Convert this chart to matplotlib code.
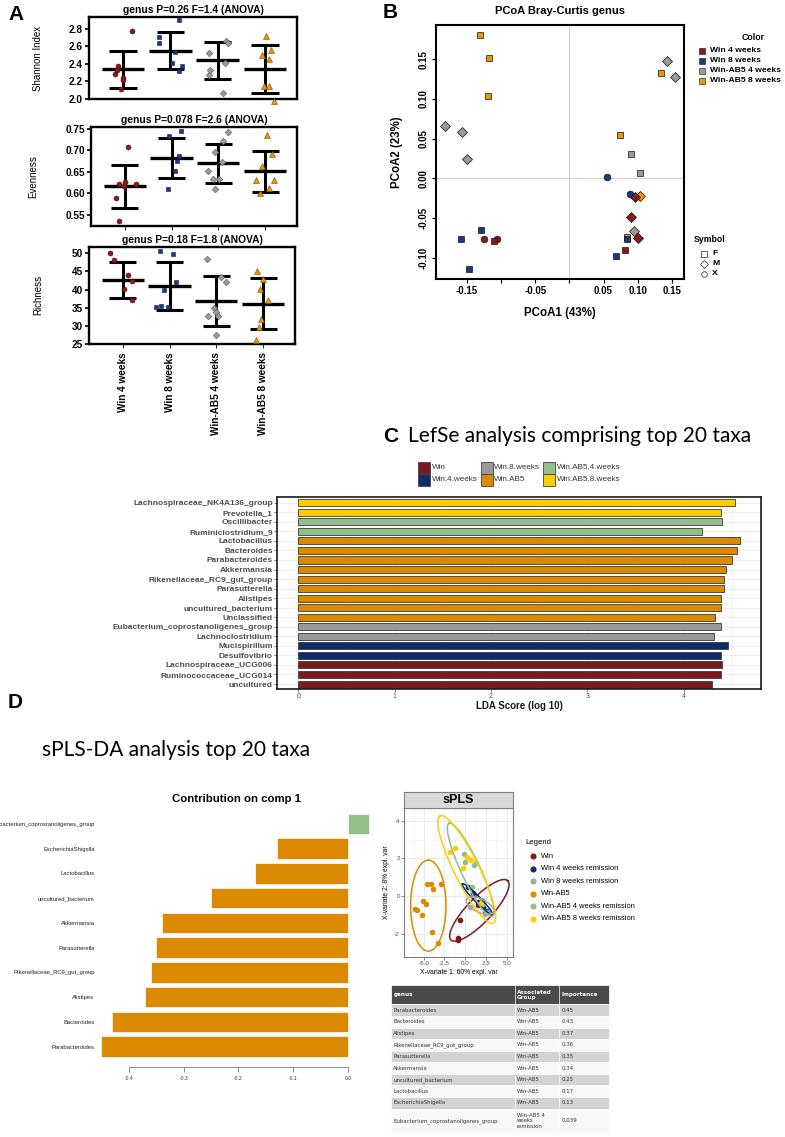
import numpy as np
import matplotlib
matplotlib.use('Agg')
import matplotlib.pyplot as plt
from matplotlib.patches import Rectangle
from matplotlib.lines import Line2D

plt.rcParams['font.family'] = ['Liberation Sans', 'DejaVu Sans']

# ------------------------------------------------------------------ DATA
# Panel A (alpha diversity)
A_groups = ['Win 4 weeks', 'Win 8 weeks', 'Win-AB5 4 weeks', 'Win-AB5 8 weeks']
A_colors = ['#8B1A1A', '#1B3A7E', '#9A9A9A', '#E8960A']
A_edges = ['#4a0d0d', '#0b1d45', '#5a5a5a', '#7a4d00']
A_markers = ['o', 's', 'D', '^']

shannon_vals = [[2.78, 2.37, 2.33, 2.28, 2.24, 2.21, 2.11],
                [2.90, 2.71, 2.64, 2.54, 2.41, 2.37, 2.32],
                [2.66, 2.64, 2.53, 2.41, 2.33, 2.27, 2.07],
                [2.72, 2.56, 2.50, 2.45, 2.15, 2.15, 1.97]]
shannon_jit = [[0.19, -0.11, -0.13, -0.18, 0.0, 0.0, -0.04],
               [0.19, -0.23, -0.24, 0.09, 0.03, 0.24, 0.18],
               [0.18, 0.22, -0.19, 0.15, -0.15, -0.19, 0.11],
               [0.02, 0.14, -0.07, 0.09, -0.02, 0.09, 0.20]]
shannon_mean = [2.34, 2.55, 2.44, 2.34]
shannon_lo = [2.12, 2.34, 2.23, 2.07]
shannon_hi = [2.55, 2.77, 2.65, 2.62]

even_vals = [[0.709, 0.622, 0.626, 0.616, 0.621, 0.588, 0.535],
             [0.733, 0.745, 0.686, 0.676, 0.651, 0.609],
             [0.743, 0.722, 0.697, 0.672, 0.652, 0.634, 0.634, 0.609],
             [0.735, 0.692, 0.663, 0.630, 0.631, 0.601, 0.612]]
even_jit = [[0.07, -0.12, 0.0, -0.02, 0.25, -0.18, -0.13],
            [-0.05, 0.2, 0.16, 0.12, 0.07, -0.07],
            [0.2, 0.11, -0.08, 0.07, -0.23, -0.12, 0.02, -0.08],
            [0.04, 0.14, -0.07, -0.19, 0.18, -0.11, 0.09]]
even_mean = [0.616, 0.682, 0.670, 0.652]
even_lo = [0.565, 0.636, 0.623, 0.603]
even_hi = [0.667, 0.729, 0.716, 0.698]

rich_vals = [[50.0, 48.2, 44.0, 42.4, 40.2, 37.0],
             [50.7, 49.8, 42.1, 40.0, 35.1, 35.6, 35.1],
             [48.3, 43.5, 42.1, 35.0, 33.9, 32.6, 32.6, 27.5],
             [45.2, 42.9, 40.1, 37.2, 31.8, 29.8, 26.1]]
rich_jit = [[-0.27, -0.18, 0.11, 0.2, 0.03, 0.2],
            [-0.2, 0.07, 0.14, -0.11, -0.28, -0.18, -0.04],
            [-0.21, 0.11, 0.2, -0.05, 0.0, -0.18, 0.04, -0.01],
            [-0.14, -0.01, -0.07, 0.11, -0.04, -0.08, -0.16]]
rich_mean = [42.7, 41.1, 36.8, 36.0]
rich_lo = [37.6, 34.4, 29.9, 29.1]
rich_hi = [47.7, 47.7, 43.7, 43.2]

A_titles = ['genus P=0.26 F=1.4 (ANOVA)', 'genus P=0.078 F=2.6 (ANOVA)',
            'genus P=0.18 F=1.8 (ANOVA)']
A_ylabels = ['Shannon Index', 'Evenness', 'Richness']

# Panel B (PCoA)
pc_groups = ['Win 4 weeks', 'Win 8 weeks', 'Win-AB5 4 weeks', 'Win-AB5 8 weeks']
pc_colors = ['#8B1A1A', '#1B3A7E', '#9A9A9A', '#E8960A']
pc_sex = ['F', 'M', 'X']
pc_sex_marker = {'F': 's', 'M': 'D', 'X': 'o'}
pc_group_idx = [0]*7 + [1]*7 + [2]*8 + [3]*7
pc_shape = ['X', 'X', 'F', 'F', 'M', 'M', 'M',
            'F', 'F', 'F', 'F', 'F', 'X', 'X',
            'M', 'M', 'M', 'M', 'M', 'M', 'F', 'F',
            'F', 'F', 'F', 'F', 'F', 'M', 'F']
pc_x = [-0.125, -0.106, -0.111, 0.081, 0.096, 0.090, 0.101,
        -0.129, -0.159, -0.147, 0.084, 0.069, 0.055, 0.089,
        -0.183, -0.158, -0.150, 0.143, 0.155, 0.095, 0.090, 0.104,
        -0.131, -0.118, -0.119, 0.074, 0.134, 0.103, 0.084]
pc_y = [-0.076, -0.077, -0.079, -0.090, -0.024, -0.049, -0.075,
        -0.065, -0.076, -0.115, -0.077, -0.098, 0.002, -0.020,
        0.066, 0.058, 0.024, 0.148, 0.128, -0.067, 0.030, 0.006,
        0.181, 0.151, 0.103, 0.055, 0.133, -0.023, -0.074]

# Panel C (LEfSe)
lefse_taxa = ['Lachnospiraceae_NK4A136_group', 'Prevotella_1', 'Oscillibacter',
              'Ruminiclostridium_9', 'Lactobacillus', 'Bacteroides', 'Parabacteroides',
              'Akkermansia', 'Rikenellaceae_RC9_gut_group', 'Parasutterella', 'Alistipes',
              'uncultured_bacterium', 'Unclassified', 'Eubacterium_coprostanoligenes_group',
              'Lachnoclostridium', 'Mucispirillum', 'Desulfovibrio',
              'Lachnospiraceae_UCG006', 'Ruminococcaceae_UCG014', 'uncultured']
lefse_lda = [4.53, 4.39, 4.40, 4.19, 4.58, 4.55, 4.50, 4.44, 4.42, 4.42,
             4.38, 4.38, 4.32, 4.38, 4.31, 4.46, 4.38, 4.40, 4.38, 4.29]
lefse_class = ['Win.AB5.8.weeks']*2 + ['Win.AB5.4.weeks']*2 + ['Win.AB5']*9 + \
              ['Win.8.weeks']*2 + ['Win.4.weeks']*2 + ['Win']*3
lefse_classes = ['Win', 'Win.4.weeks', 'Win.8.weeks', 'Win.AB5',
                 'Win.AB5.4.weeks', 'Win.AB5.8.weeks']
lefse_colors = ['#7B1A1E', '#0D2C6C', '#999999', '#DB8A00', '#93BE8A', '#FFCC00']

# Panel D (sPLS-DA contribution)
contrib_taxa = ['Parabacteroides', 'Bacteroides', 'Alistipes', 'Rikenellaceae_RC9_gut_group',
                'Parasutterella', 'Akkermansia', 'uncultured_bacterium', 'Lactobacillus',
                'EscherichiaShigella', 'Eubacterium_coprostanoligenes_group']
contrib_vals = [-0.45, -0.43, -0.37, -0.36, -0.35, -0.34, -0.25, -0.17, -0.13, 0.039]
contrib_group = ['Win-AB5']*9 + ['Win-AB5 4 weeks remission']

# sPLS score plot
spls_groups = ['Win', 'Win 4 weeks remission', 'Win 8 weeks remission', 'Win-AB5',
               'Win-AB5 4 weeks remission', 'Win-AB5 8 weeks remission']
spls_colors = ['#7E1A1A', '#0D2C6C', '#A6A6A6', '#DC8A00', '#93BE8A', '#FFCC00']
spls_x = [[-0.62, -0.92, -0.85, 1.6, 2.4],
          [0.3, 1.0, 1.6, 2.1, 2.6],
          [0.55, 2.0, 2.4, 2.8],
          [-4.56, -4.16, -3.84, -2.95, -5.08, -4.72, -6.04, -5.76, -5.2, -4.04, -3.31],
          [-0.2, -0.02, 1.1, 0.86, 1.25, 2.2],
          [-1.79, -1.22, 0.22, 0.70, -0.30, 1.9]]
spls_y = [[-1.28, -2.24, -2.33, -0.45, -0.9],
          [0.5, 0.15, -0.3, -0.55, -0.8],
          [-0.55, -0.2, -0.95, -0.85],
          [0.65, 0.63, 0.36, 0.63, -0.25, -0.43, -0.68, -0.75, -1.01, -1.91, -2.49],
          [2.22, 1.79, 1.63, 0.49, 1.75, -0.4],
          [2.34, 2.54, 2.08, 1.90, 1.49, -0.35]]
# confidence ellipses: centre and two conjugate half-axis vectors (data units)
ell_center = [(1.71, -0.75), (1.47, -0.16), (1.79, -0.5), (-4.44, -0.5), (0.66, 1.39), (0.18, 1.41)]
ell_P = [(3.41, 1.57), (-1.81, 0.81), (-1.61, 0.335), (0.0, 2.41), (-2.61, 2.47), (-3.21, 2.84)]
ell_Q = [(1.08, -0.45), (0.26, 0.11), (0.345, 0.319), (2.13, 0.0), (1.05, 0.215), (1.35, 0.29)]

# ------------------------------------------------------------------ FIGURE
W, H = 785, 1137
fig = plt.figure(figsize=(W/100, H/100), dpi=100)


def add_ax(l, t, r, b, **kw):
    return fig.add_axes([l/W, 1 - b/H, (r-l)/W, (b-t)/H], **kw)


# ---------------- Panel A
A_boxes = [(89, 17.3, 297, 98.7), (91, 126.7, 297, 225.7), (89, 246.7, 295, 344)]
A_data = [(shannon_vals, shannon_jit, shannon_mean, shannon_lo, shannon_hi),
          (even_vals, even_jit, even_mean, even_lo, even_hi),
          (rich_vals, rich_jit, rich_mean, rich_lo, rich_hi)]
A_ylims = [(2.0, 2.934), (0.5243, 0.7554), (25, 51.8)]
A_yticks = [[2.0, 2.2, 2.4, 2.6, 2.8], [0.55, 0.60, 0.65, 0.70, 0.75],
            [25, 30, 35, 40, 45, 50]]
A_fmt = ['{:.1f}', '{:.2f}', '{:d}']
A_ylab_x = [43, 38, 43]

for k in range(3):
    ax = add_ax(*A_boxes[k])
    vals, jit, mean, lo, hi = A_data[k]
    for g in range(4):
        xs = np.array(jit[g]) + g + 1
        ax.vlines(g + 1, lo[g], hi[g], color='black', lw=2.2, zorder=3)
        ax.hlines(mean[g], g + 1 - 0.45, g + 1 + 0.45, color='black', lw=2.4, zorder=3)
        ax.hlines([lo[g], hi[g]], g + 1 - 0.29, g + 1 + 0.29, color='black', lw=2.2, zorder=3)
        ms = {'o': 3.6, 's': 3.3, 'D': 3.4, '^': 4.0}[A_markers[g]]
        ax.plot(xs, vals[g], ls='none', marker=A_markers[g], ms=ms, mfc=A_colors[g],
                mec=A_edges[g], mew=0.4, zorder=4, clip_on=False)
    ax.set_xlim(0.28, 4.68)
    ax.set_ylim(*A_ylims[k])
    ax.set_yticks(A_yticks[k])
    ax.set_yticklabels([A_fmt[k].format(v) for v in A_yticks[k]], fontsize=7.2,
                       fontweight='bold')
    ax.tick_params(axis='y', length=3, width=1.2, pad=1.5)
    for s in ax.spines.values():
        s.set_linewidth(1.7)
    if k == 0:
        ax.set_xticks([])
    else:
        ax.set_xticks([1, 2, 3, 4])
        ax.tick_params(axis='x', length=3, width=0.8, color='#333333')
        if k == 2:
            ax.set_xticklabels(A_groups, rotation=90, fontsize=7.2, fontweight='bold')
            ax.tick_params(axis='x', pad=3)
        else:
            ax.set_xticklabels([])
    ax.set_ylabel(A_ylabels[k], fontsize=7)
    bx = A_boxes[k]
    ax.yaxis.set_label_coords((A_ylab_x[k] - bx[0]) / (bx[2] - bx[0]), 0.5)
    ax.set_title(A_titles[k], fontsize=7.4, fontweight='bold', pad=3)

# ---------------- Panel B
axB = add_ax(435.7, 25, 684, 279)
for g in [3, 2, 1, 0]:
    for i in range(len(pc_x)):
        if pc_group_idx[i] != g:
            continue
        m = pc_sex_marker[pc_shape[i]]
        ms = {'s': 4.4, 'D': 4.8, 'o': 4.8}[m]
        axB.plot(pc_x[i], pc_y[i], ls='none', marker=m, ms=ms, mfc=pc_colors[g],
                 mec='#111111', mew=0.5, zorder=3)
axB.axhline(0, color='#cfcfcf', lw=0.7, zorder=1)
axB.axvline(0, color='#cfcfcf', lw=0.7, zorder=1)
axB.set_xlim(-0.196, 0.168)
axB.set_ylim(-0.127, 0.193)
xt = [-0.15, -0.10, -0.05, 0.0, 0.05, 0.10, 0.15]
axB.set_xticks(xt)
axB.set_xticklabels(['-0.15', '', '-0.05', '', '0.05', '0.10', '0.15'],
                    fontsize=7, fontweight='bold')
yt = [-0.10, -0.05, 0.0, 0.05, 0.10, 0.15]
axB.set_yticks(yt)
axB.set_yticklabels(['{:.2f}'.format(v) for v in yt], fontsize=7, fontweight='bold',
                    rotation=90, va='center')
axB.tick_params(length=3, width=0.8, pad=2)
for s in axB.spines.values():
    s.set_linewidth(1.5)

# ---------------- Panel C
axC = add_ax(277, 497, 761, 689)
n = len(lefse_taxa)
ypos = np.arange(n)[::-1]
ccol = [lefse_colors[lefse_classes.index(c)] for c in lefse_class]
axC.set_xlim(-0.22, 4.80)
axC.set_ylim(-0.52, n - 1 + 0.6)
for xv in np.arange(0, 4.51, 0.5):
    axC.axvline(xv, color='#ebebeb', lw=0.6 if xv % 1 == 0 else 0.4, zorder=0)
for yv in ypos:
    axC.axhline(yv, color='#ebebeb', lw=0.6, zorder=0)
axC.barh(ypos, lefse_lda, height=0.74, color=ccol, edgecolor='#3a3a3a', lw=0.6, zorder=2)
axC.set_yticks(ypos)
axC.set_yticklabels(lefse_taxa, fontsize=6.0, fontweight='bold', color='#4d4d4d')
axC.set_xticks([0, 1, 2, 3, 4])
axC.set_xticklabels(['0', '1', '2', '3', '4'], fontsize=5, color='#4d4d4d')
axC.tick_params(length=2, width=0.5, color='#4d4d4d', pad=1)
for s in axC.spines.values():
    s.set_linewidth(1.2)
    s.set_color('#1a1a1a')

# ---------------- Panel D : contribution
axD = add_ax(98.7, 809, 372.7, 1061.5)
for s in ['top', 'right', 'left']:
    axD.spines[s].set_visible(False)
axD.spines['bottom'].set_position(('outward', 4))
axD.spines['bottom'].set_bounds(-0.4, 0.0)
axD.spines['bottom'].set_color('#777777')
axD.spines['bottom'].set_linewidth(0.6)
m = len(contrib_taxa)
dcol = ['#DB8A00' if v < 0 else '#93BE8A' for v in contrib_vals]
axD.barh(np.arange(m), contrib_vals, height=0.82, color=dcol, edgecolor='white', lw=0.5)
axD.set_xlim(-0.455, 0.045)
axD.set_ylim(-0.6, m - 1 + 0.6)
axD.set_yticks(np.arange(m))
axD.set_yticklabels(contrib_taxa, fontsize=4.2, color='#222222')
axD.tick_params(axis='y', length=0, pad=3)
axD.set_xticks([-0.4, -0.3, -0.2, -0.1, 0.0])
axD.set_xticklabels(['-0.4', '-0.3', '-0.2', '-0.1', '0.0'], fontsize=3.6, color='#333333')
axD.tick_params(axis='x', length=3.5, width=0.6, color='#777777', pad=3, labelsize=3.6)

# ---------------- sPLS score plot
axS = add_ax(404, 808, 513, 957)
for g in range(len(spls_groups)):
    axS.plot(spls_x[g], spls_y[g], ls='none', marker='o', ms=3.0, mfc=spls_colors[g],
             mec=spls_colors[g], zorder=3)
t = np.linspace(0, 2*np.pi, 200)
for g in range(len(spls_groups)):
    cx, cy = ell_center[g]
    px, py = ell_P[g]
    qx, qy = ell_Q[g]
    axS.plot(cx + px*np.cos(t) + qx*np.sin(t), cy + py*np.cos(t) + qy*np.sin(t),
             color=spls_colors[g], lw=1.1, zorder=4)
axS.set_xlim(-7.37, 5.76)
axS.set_ylim(-3.22, 4.67)
axS.set_xticks([-5, -2.5, 0, 2.5, 5])
axS.set_xticklabels(['-5.0', '-2.5', '0.0', '2.5', '5.0'], fontsize=4.5, color='#4d4d4d')
axS.set_yticks([-2, 0, 2, 4])
axS.set_yticklabels(['-2', '0', '2', '4'], fontsize=4.5, color='#4d4d4d')
axS.set_xticks([-6.25, -3.75, -1.25, 1.25, 3.75], minor=True)
axS.set_yticks([-3, -1, 1, 3], minor=True)
axS.grid(True, which='major', color='#e6e6e6', lw=0.6)
axS.grid(True, which='minor', color='#f2f2f2', lw=0.4)
axS.set_axisbelow(True)
axS.tick_params(which='major', length=2, width=0.5, color='#4d4d4d', pad=1)
axS.tick_params(which='minor', length=0)
for s in axS.spines.values():
    s.set_color('#7f7f7f')
    s.set_linewidth(0.8)

axStrip = add_ax(404, 792, 513, 808)
axStrip.set_facecolor('#d9d9d9')
axStrip.set_xticks([])
axStrip.set_yticks([])
for s in axStrip.spines.values():
    s.set_color('#7f7f7f')
    s.set_linewidth(0.8)
axStrip.text(0.5, 0.5, 'sPLS', transform=axStrip.transAxes, ha='center', va='center',
             fontsize=9, fontweight='bold')

# ---------------- overlay for figure-level text, legends, table
ov = add_ax(0, 0, W, H)
ov.set_xlim(0, W)
ov.set_ylim(H, 0)
ov.axis('off')
ov.patch.set_alpha(0)

# panel letters
ov.text(8, 15, 'A', fontsize=15, fontweight='bold', va='center', ha='left')
ov.text(383, 13, 'B', fontsize=15, fontweight='bold', va='center', ha='left')
ov.text(383, 436, 'C', fontsize=15, fontweight='bold', va='center', ha='left')
ov.text(8, 702, 'D', fontsize=15, fontweight='bold', va='center', ha='left')
ov.text(408, 436, 'LefSe analysis comprising top 20 taxa', fontsize=15,
        family=['Lato', 'DejaVu Sans'], va='center', ha='left')
ov.text(42, 750, 'sPLS-DA analysis top 20 taxa', fontsize=15,
        family=['Lato', 'DejaVu Sans'], va='center', ha='left')

# panel B labels and legend
ov.text(560, 11, 'PCoA Bray-Curtis genus', fontsize=8, fontweight='bold', ha='center', va='center')
ov.text(560, 313, 'PCoA1 (43%)', fontsize=8.3, fontweight='bold', ha='center', va='center')
ov.text(397, 152, 'PCoA2 (23%)', fontsize=8.3, fontweight='bold', ha='center', va='center',
        rotation=90)
ov.text(753, 37, 'Color', fontsize=6.3, fontweight='bold', ha='center', va='center')
for i, (lab, col) in enumerate(zip(pc_groups, pc_colors)):
    yy = 50.7 + i * 10
    ov.add_patch(Rectangle((698.5, yy - 3.2), 6.4, 6.4, fc=col, ec='#111111', lw=0.4))
    ov.text(710, yy, lab, fontsize=6.1, fontweight='bold', va='center', ha='left')
ov.text(710, 240, 'Symbol', fontsize=6.3, fontweight='bold', ha='center', va='center')
for i, s in enumerate(pc_sex):
    yy = 253.7 + i * 10
    ov.plot(704, yy, marker=pc_sex_marker[s], ms=4, mfc='white', mec='#222222', mew=0.5)
    ov.text(712, yy, s, fontsize=6.1, fontweight='bold', va='center', ha='left')

# panel C legend + x label
leg_pos = [(418.3, 432), (481, 494.3), (543.3, 556.7)]
for i, (lab, col) in enumerate(zip(lefse_classes, lefse_colors)):
    c, r = i // 2, i % 2
    yy = 467.7 + r * 12
    ov.add_patch(Rectangle((leg_pos[c][0], yy - 5.8), 11.5, 11.6, fc=col, ec='#444444', lw=0.6))
    ov.text(leg_pos[c][1], yy, lab, fontsize=5.9, color='#333333', va='center', ha='left')
ov.text(519, 706, 'LDA Score (log 10)', fontsize=7, fontweight='bold', ha='center', va='center',
        color='#1a1a1a')

# panel D contribution title
ov.text(236, 799, 'Contribution on comp 1', fontsize=8.2, fontweight='bold', ha='center',
        va='center')

# sPLS axis labels and legend
ov.text(458.5, 972, 'X-variate 1: 60% expl. var', fontsize=4.9, ha='center', va='center')
ov.text(387, 882, 'X-variate 2: 8% expl. var', fontsize=4.9, ha='center', va='center',
        rotation=90)
ov.text(525.5, 843, 'Legend', fontsize=5.6, ha='left', va='center')
for i, (lab, col) in enumerate(zip(spls_groups, spls_colors)):
    yy = 856 + i * 12.6
    ov.plot(532.7, yy, marker='o', ms=3.4, mfc=col, mec=col)
    ov.text(541, yy, lab, fontsize=5.4, ha='left', va='center')

# importance table
tx0, tx1, tx2, tx3 = 391, 515, 559, 609
ty = 985
hdr_h = 19.3
row_h = 11.6
last_h = 24.3
ov.add_patch(Rectangle((tx0, ty), tx3 - tx0, hdr_h, fc='#4a4a4a', ec='white', lw=0.5))
for xl in [tx1, tx2]:
    ov.plot([xl, xl], [ty, ty + hdr_h], color='white', lw=0.5)
tfam = ['DejaVu Sans']
ov.text(tx0 + 2.3, ty + hdr_h / 2, 'genus', fontsize=4.1, fontweight='bold', color='white',
        va='center', ha='left', family=tfam)
ov.text(tx1 + 1.7, ty + hdr_h / 2, 'Associated\nGroup', fontsize=4.1, fontweight='bold',
        color='white', va='center', ha='left', family=tfam, linespacing=1.05)
ov.text(tx2 + 2.7, ty + hdr_h / 2, 'Importance', fontsize=4.1, fontweight='bold',
        color='white', va='center', ha='left', family=tfam)
yy = ty + hdr_h
for i in range(len(contrib_taxa)):
    h = last_h if contrib_group[i] != 'Win-AB5' else row_h
    fc = '#d3d3d3' if i % 2 == 0 else '#fcf7f7'
    ov.add_patch(Rectangle((tx0, yy), tx3 - tx0, h, fc=fc, ec='white', lw=0.5))
    for xl in [tx1, tx2]:
        ov.plot([xl, xl], [yy, yy + h], color='white', lw=0.5)
    grp = contrib_group[i].replace(' 4 weeks remission', ' 4\nweeks\nremission')
    ov.text(tx0 + 2.3, yy + h / 2, contrib_taxa[i], fontsize=3.9, color='#333333',
            va='center', ha='left', family=tfam)
    ov.text(tx1 + 1.7, yy + h / 2, grp, fontsize=3.9, color='#333333', va='center',
            ha='left', family=tfam, linespacing=1.05)
    ov.text(tx2 + 2.7, yy + h / 2, '{:g}'.format(abs(contrib_vals[i])), fontsize=3.9,
            color='#333333', va='center', ha='left', family=tfam)
    yy += h

fig.savefig('out.png', dpi=100)
